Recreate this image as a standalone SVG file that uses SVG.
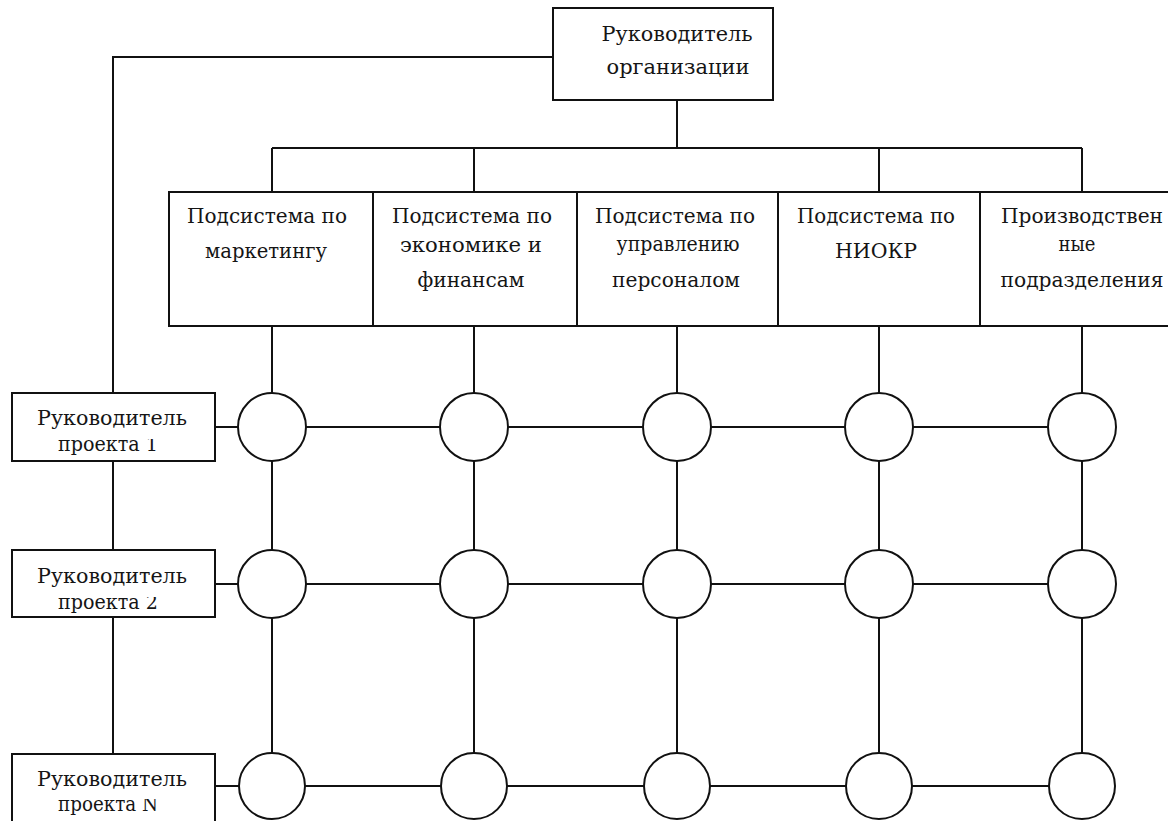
<svg xmlns="http://www.w3.org/2000/svg" width="1168" height="821" viewBox="0 0 1168 821">
  <style>
    .box { fill: #ffffff; stroke: #111111; stroke-width: 2; }
    .node { fill: #ffffff; stroke: #111111; stroke-width: 2; }
    .wire { fill: none; stroke: #111111; stroke-width: 2; }
    .lbl { font-family: "DejaVu Serif", "Liberation Serif", serif; font-size: 21px; fill: #151515; text-anchor: middle; }
  </style>
  <defs>
    <!-- second lines of the project-manager boxes are cut at the top -->
    <clipPath id="clip-pm1"><rect x="12" y="439" width="203" height="22"/></clipPath>
    <clipPath id="clip-pm2"><rect x="12" y="597" width="203" height="20"/></clipPath>
    <clipPath id="clip-pmn"><rect x="12" y="799" width="203" height="22"/></clipPath>
  </defs>
  <rect x="0" y="0" width="1168" height="821" fill="#ffffff"/>

  <!-- connectors -->
  <g id="connectors" class="wire">
    <!-- head to project managers -->
    <polyline points="553,57 113,57 113,393"/>
    <line x1="113" y1="461" x2="113" y2="550"/>
    <line x1="113" y1="617" x2="113" y2="754"/>
    <!-- head to subsystems bus -->
    <line x1="677" y1="100" x2="677" y2="148"/>
    <line x1="272" y1="148" x2="1082" y2="148"/>
    <line x1="272" y1="148" x2="272" y2="192"/>
    <line x1="474" y1="148" x2="474" y2="192"/>
    <line x1="879" y1="148" x2="879" y2="192"/>
    <line x1="1082" y1="148" x2="1082" y2="192"/>
    <!-- matrix columns -->
    <line x1="272" y1="326" x2="272" y2="785"/>
    <line x1="474" y1="326" x2="474" y2="785"/>
    <line x1="677" y1="326" x2="677" y2="785"/>
    <line x1="879" y1="326" x2="879" y2="785"/>
    <line x1="1082" y1="326" x2="1082" y2="785"/>
    <!-- matrix rows -->
    <line x1="215" y1="427" x2="1082" y2="427"/>
    <line x1="215" y1="584" x2="1082" y2="584"/>
    <line x1="215" y1="786" x2="1082" y2="786"/>
  </g>

  <!-- head of organisation -->
  <g id="head">
    <rect class="box" x="553" y="8" width="220" height="92"/>
    <text class="lbl" x="677" y="41" textLength="151" lengthAdjust="spacingAndGlyphs">Руководитель</text>
    <text class="lbl" x="678" y="74" textLength="143" lengthAdjust="spacingAndGlyphs">организации</text>
  </g>

  <!-- functional subsystems -->
  <g id="sub-marketing">
    <rect class="box" x="169" y="192" width="204" height="134"/>
    <text class="lbl" x="267" y="223" textLength="160" lengthAdjust="spacingAndGlyphs">Подсистема по</text>
    <text class="lbl" x="266" y="258" textLength="122" lengthAdjust="spacingAndGlyphs">маркетингу</text>
  </g>
  <g id="sub-economics">
    <rect class="box" x="373" y="192" width="204" height="134"/>
    <text class="lbl" x="472" y="223" textLength="160" lengthAdjust="spacingAndGlyphs">Подсистема по</text>
    <text class="lbl" x="471" y="252" textLength="142" lengthAdjust="spacingAndGlyphs">экономике и</text>
    <text class="lbl" x="471" y="287" textLength="107" lengthAdjust="spacingAndGlyphs">финансам</text>
  </g>
  <g id="sub-personnel">
    <rect class="box" x="577" y="192" width="201" height="134"/>
    <text class="lbl" x="675" y="223" textLength="160" lengthAdjust="spacingAndGlyphs">Подсистема по</text>
    <text class="lbl" x="678" y="251" textLength="123" lengthAdjust="spacingAndGlyphs">управлению</text>
    <text class="lbl" x="676" y="287" textLength="128" lengthAdjust="spacingAndGlyphs">персоналом</text>
  </g>
  <g id="sub-rnd">
    <rect class="box" x="778" y="192" width="202" height="134"/>
    <text class="lbl" x="876" y="223" textLength="158" lengthAdjust="spacingAndGlyphs">Подсистема по</text>
    <text class="lbl" x="876" y="258" textLength="82" lengthAdjust="spacingAndGlyphs">НИОКР</text>
  </g>
  <g id="sub-production">
    <rect class="box" x="980" y="192" width="200" height="134"/>
    <text class="lbl" x="1082" y="223" textLength="162" lengthAdjust="spacingAndGlyphs">Производствен</text>
    <text class="lbl" x="1077" y="251" textLength="37" lengthAdjust="spacingAndGlyphs">ные</text>
    <text class="lbl" x="1082" y="287" textLength="163" lengthAdjust="spacingAndGlyphs">подразделения</text>
  </g>

  <!-- project managers -->
  <g id="pm-1">
    <rect class="box" x="12" y="393" width="203" height="68"/>
    <text class="lbl" x="112" y="425" textLength="150" lengthAdjust="spacingAndGlyphs">Руководитель</text>
    <text class="lbl" x="108" y="451" textLength="100" lengthAdjust="spacingAndGlyphs" clip-path="url(#clip-pm1)">проекта 1</text>
  </g>
  <g id="pm-2">
    <rect class="box" x="12" y="550" width="203" height="67"/>
    <text class="lbl" x="112" y="583" textLength="150" lengthAdjust="spacingAndGlyphs">Руководитель</text>
    <text class="lbl" x="108" y="609" textLength="100" lengthAdjust="spacingAndGlyphs" clip-path="url(#clip-pm2)">проекта 2</text>
  </g>
  <g id="pm-n">
    <rect class="box" x="12" y="754" width="203" height="70"/>
    <text class="lbl" x="112" y="786" textLength="150" lengthAdjust="spacingAndGlyphs">Руководитель</text>
    <text class="lbl" x="108" y="811" textLength="100" lengthAdjust="spacingAndGlyphs" clip-path="url(#clip-pmn)">проекта N</text>
  </g>

  <!-- matrix intersections -->
  <g id="cells">
    <circle id="c-1-1" class="node" cx="272" cy="427" r="34"/>
    <circle id="c-1-2" class="node" cx="474" cy="427" r="34"/>
    <circle id="c-1-3" class="node" cx="677" cy="427" r="34"/>
    <circle id="c-1-4" class="node" cx="879" cy="427" r="34"/>
    <circle id="c-1-5" class="node" cx="1082" cy="427" r="34"/>
    <circle id="c-2-1" class="node" cx="272" cy="584" r="34"/>
    <circle id="c-2-2" class="node" cx="474" cy="584" r="34"/>
    <circle id="c-2-3" class="node" cx="677" cy="584" r="34"/>
    <circle id="c-2-4" class="node" cx="879" cy="584" r="34"/>
    <circle id="c-2-5" class="node" cx="1082" cy="584" r="34"/>
    <circle id="c-n-1" class="node" cx="272" cy="786" r="33"/>
    <circle id="c-n-2" class="node" cx="474" cy="786" r="33"/>
    <circle id="c-n-3" class="node" cx="677" cy="786" r="33"/>
    <circle id="c-n-4" class="node" cx="879" cy="786" r="33"/>
    <circle id="c-n-5" class="node" cx="1082" cy="786" r="33"/>
  </g>
</svg>
